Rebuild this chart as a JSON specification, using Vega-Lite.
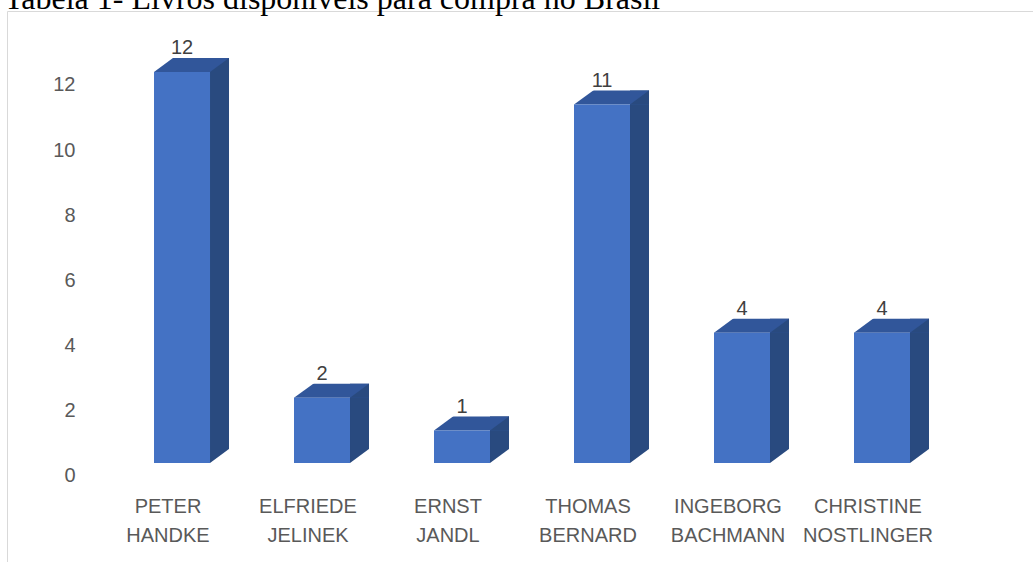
{
  "$schema": "https://vega.github.io/schema/vega-lite/v6.json",
  "width": 1026,
  "height": 551,
  "autosize": {"type": "none"},
  "padding": {"left": 7, "top": 11, "right": 0, "bottom": 0},
  "background": "white",
  "config": {
    "view": {"stroke": null},
    "axis": {"labelFont": "Liberation Sans", "labelFontSize": 20, "labelColor": "#595959", "grid": false, "ticks": false, "tickSize": 0, "title": null}
  },
  "title": {
    "text": "Tabela 1- Livros disponíveis para compra no Brasil",
    "anchor": "start",
    "frame": "group",
    "offset": -30,
    "baseline": "alphabetic",
    "font": "Liberation Serif",
    "fontSize": 32,
    "fontWeight": "normal",
    "color": "#000000",
    "dx": -3
  },
  "data": {
    "values": [
      {"autor": "PETER HANDKE", "livros": 12},
      {"autor": "ELFRIEDE JELINEK", "livros": 2},
      {"autor": "ERNST JANDL", "livros": 1},
      {"autor": "THOMAS BERNARD", "livros": 11},
      {"autor": "INGEBORG BACHMANN", "livros": 4},
      {"autor": "CHRISTINE NOSTLINGER", "livros": 4}
    ]
  },
  "encoding": {
    "y": {
      "field": "livros",
      "type": "quantitative",
      "scale": {"domain": [-3.0384, 13.8721], "nice": false, "zero": false},
      "axis": {"values": [0, 2, 4, 6, 8, 10, 12], "domain": true, "domainColor": "#d9d9d9", "domainWidth": 1, "labelPadding": -68, "labelOffset": 13, "labelFlush": false, "labelOverlap": false, "labelBound": false}
    }
  },
  "layer": [
    {
      "mark": {"type": "bar", "width": 19, "xOffset": 37.5, "yOffset": -14, "color": "#294a7f"},
      "encoding": {
        "x": {"field": "autor", "type": "nominal", "sort": null, "scale": {"type": "band", "paddingInner": 0.5, "paddingOuter": 0.9143, "align": 0.5469, "round": false}, "axis": {"orient": "top", "domain": true, "domainColor": "#d9d9d9", "labels": false}},
        "y2": {"datum": 0}
      }
    },
    {
      "mark": {"type": "bar", "width": 75, "xOffset": 9.5, "yOffset": -14, "y2Offset": 0, "color": "#31569a"},
      "encoding": {
        "x": {"field": "autor", "type": "nominal", "sort": null, "axis": null},
        "y2": {"field": "livros"}
      }
    },
    {
      "mark": {"type": "point", "shape": "M0,0L2,0L2,-1.4737Z", "size": 361, "filled": true, "strokeWidth": 0, "opacity": 1, "color": "#294a7f", "xOffset": 28},
      "encoding": {
        "x": {"field": "autor", "type": "nominal", "sort": null, "axis": null}
      }
    },
    {
      "mark": {"type": "point", "shape": "M0,0L-0.2,0L-0.2,-1.6L2.1714,-1.6Z", "size": 361, "filled": true, "strokeWidth": 0, "opacity": 1, "color": "#ffffff", "xOffset": -28},
      "encoding": {
        "x": {"field": "autor", "type": "nominal", "sort": null, "axis": null}
      }
    },
    {
      "mark": {"type": "point", "shape": "M0,0L2.1714,-1.6L2.3,-1.6L2.3,0.2L0,0.2Z", "size": 361, "filled": true, "strokeWidth": 0, "opacity": 1, "color": "#ffffff", "xOffset": 28},
      "encoding": {
        "x": {"field": "autor", "type": "nominal", "sort": null, "axis": null},
        "y": {"datum": 0, "type": "quantitative"}
      }
    },
    {
      "mark": {"type": "bar", "width": 56, "color": "#4472c4"},
      "encoding": {
        "x": {"field": "autor", "type": "nominal", "sort": null, "axis": {"orient": "bottom", "offset": -72, "domain": false, "labelAngle": 0, "labelPadding": 6, "labelOffset": -14, "labelBaseline": "top", "labelAlign": "center", "labelLineHeight": 29, "labelExpr": "split(datum.label, ' ')", "labelOverlap": false, "labelBound": false, "labelFlush": false}},
        "y2": {"datum": 0}
      }
    },
    {
      "mark": {"type": "text", "font": "Liberation Sans", "fontSize": 20, "color": "#404040", "baseline": "alphabetic", "align": "center", "yOffset": -17.5},
      "encoding": {
        "x": {"field": "autor", "type": "nominal", "sort": null, "axis": null},
        "text": {"field": "livros", "type": "quantitative"}
      }
    }
  ],
  "resolve": {"axis": {"x": "independent"}}
}
